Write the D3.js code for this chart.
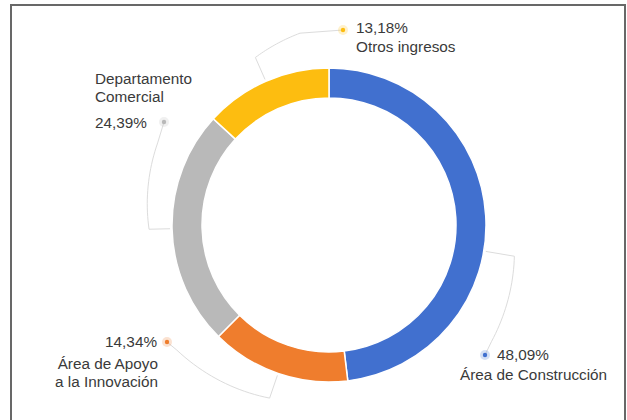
<!DOCTYPE html>
<html>
<head>
<meta charset="utf-8">
<script src="https://cdn.jsdelivr.net/npm/d3@7"></script>
<style>
  html,body{margin:0;padding:0;background:#ffffff;}
  svg{display:block;}
</style>
</head>
<body>
<svg id="chart" width="627" height="420"></svg>
<script>
// datos del grafico
var categorias=["Área de Construcción","Área de Apoyo\na la Innovación","Departamento\nComercial","Otros ingresos"];
var valores=[48.09,14.34,24.39,13.18];
var colores=["#4170cf","#ef7d2d","#b9b9b9","#fdbd10"];

// posicion de etiquetas (layout)
var etiquetas=[
    {dot:[485,355], desvio:13, r1:188, a1:125.7, r2:200, anchor:"start", pct:[497,360], nombre:[460,380]},
    {dot:[167,342], desvio:0, r1:183, a1:230.6, r2:197, anchor:"end", pct:[157,347], nombre:[158,369]},
    {dot:[164,122], desvio:0, r1:180, a1:295.6, r2:190, anchor:"start", pct:[95,128], nombre:[95,84]},
    {dot:[343,30], desvio:0, r1:183, a1:351.4, r2:194, anchor:"start", pct:[356,33], nombre:[356,52]}
];

var cx=329, cy=225;
var radioExt=157, radioInt=127;
var tamanioFuente=15.3;
var altoLinea=18;

var svg=d3.select("#chart");

// marco
svg.append("rect")
    .attr("x",11).attr("y",5)
    .attr("width",614).attr("height",460)
    .attr("fill","none")
    .attr("stroke","#686868")
    .attr("stroke-width",2);

var pie=d3.pie().sort(null).value(function(d){ return d; });
var arcos=pie(valores);

var arc=d3.arc().innerRadius(radioInt).outerRadius(radioExt);

var g=svg.append("g").attr("transform","translate("+cx+","+cy+")");

g.selectAll(".slice")
    .data(arcos)
    .enter()
    .append("path")
    .attr("class","slice")
    .attr("d",arc)
    .attr("fill",function(d,i){ return colores[i]; })
    .attr("stroke","#ffffff")
    .attr("stroke-width",1.5);

function punto(ang,r){
    var a=ang*Math.PI/180;
    return [cx+r*Math.sin(a), cy-r*Math.cos(a)];
}

var formato=d3.format(".2f");

for(var i=0; i < arcos.length; i++ ){

    var e=etiquetas[i];
    var medio=(arcos[i].startAngle+arcos[i].endAngle)/2*180/Math.PI + e.desvio;

    // linea guia
    var pts=[punto(medio,radioExt+2), punto(medio,e.r1)];
    var pasos=20;
    for(var k=1; k<=pasos; k++){
        var t=k/pasos;
        pts.push(punto(medio+(e.a1-medio)*t, e.r1+(e.r2-e.r1)*t));
    }
    pts.push(e.dot);

    svg.append("path")
        .attr("d",d3.line()(pts))
        .attr("fill","none")
        .attr("stroke","#dcdcdc")
        .attr("stroke-width",1);

    // marcador
    svg.append("circle")
        .attr("cx",e.dot[0]).attr("cy",e.dot[1])
        .attr("r",5)
        .attr("fill",colores[i])
        .attr("fill-opacity",0.22);

    svg.append("circle")
        .attr("cx",e.dot[0]).attr("cy",e.dot[1])
        .attr("r",2.2)
        .attr("fill",colores[i]);

    // textos
    svg.append("text")
        .attr("x",e.pct[0]).attr("y",e.pct[1])
        .style("font-family","'Liberation Sans', Arial, sans-serif")
        .style("font-size",tamanioFuente+"px")
        .style("fill","#3a3a3a")
        .style("text-anchor",e.anchor)
        .text(formato(valores[i]).replace(".",",")+"%");

    var lineas=categorias[i].split("\n");
    for(var j=0; j < lineas.length; j++){
        svg.append("text")
            .attr("x",e.nombre[0]).attr("y",e.nombre[1]+j*altoLinea)
            .style("font-family","'Liberation Sans', Arial, sans-serif")
            .style("font-size",tamanioFuente+"px")
            .style("fill","#3a3a3a")
            .style("text-anchor",e.anchor)
            .text(lineas[j]);
    }
}
</script>
</body>
</html>
